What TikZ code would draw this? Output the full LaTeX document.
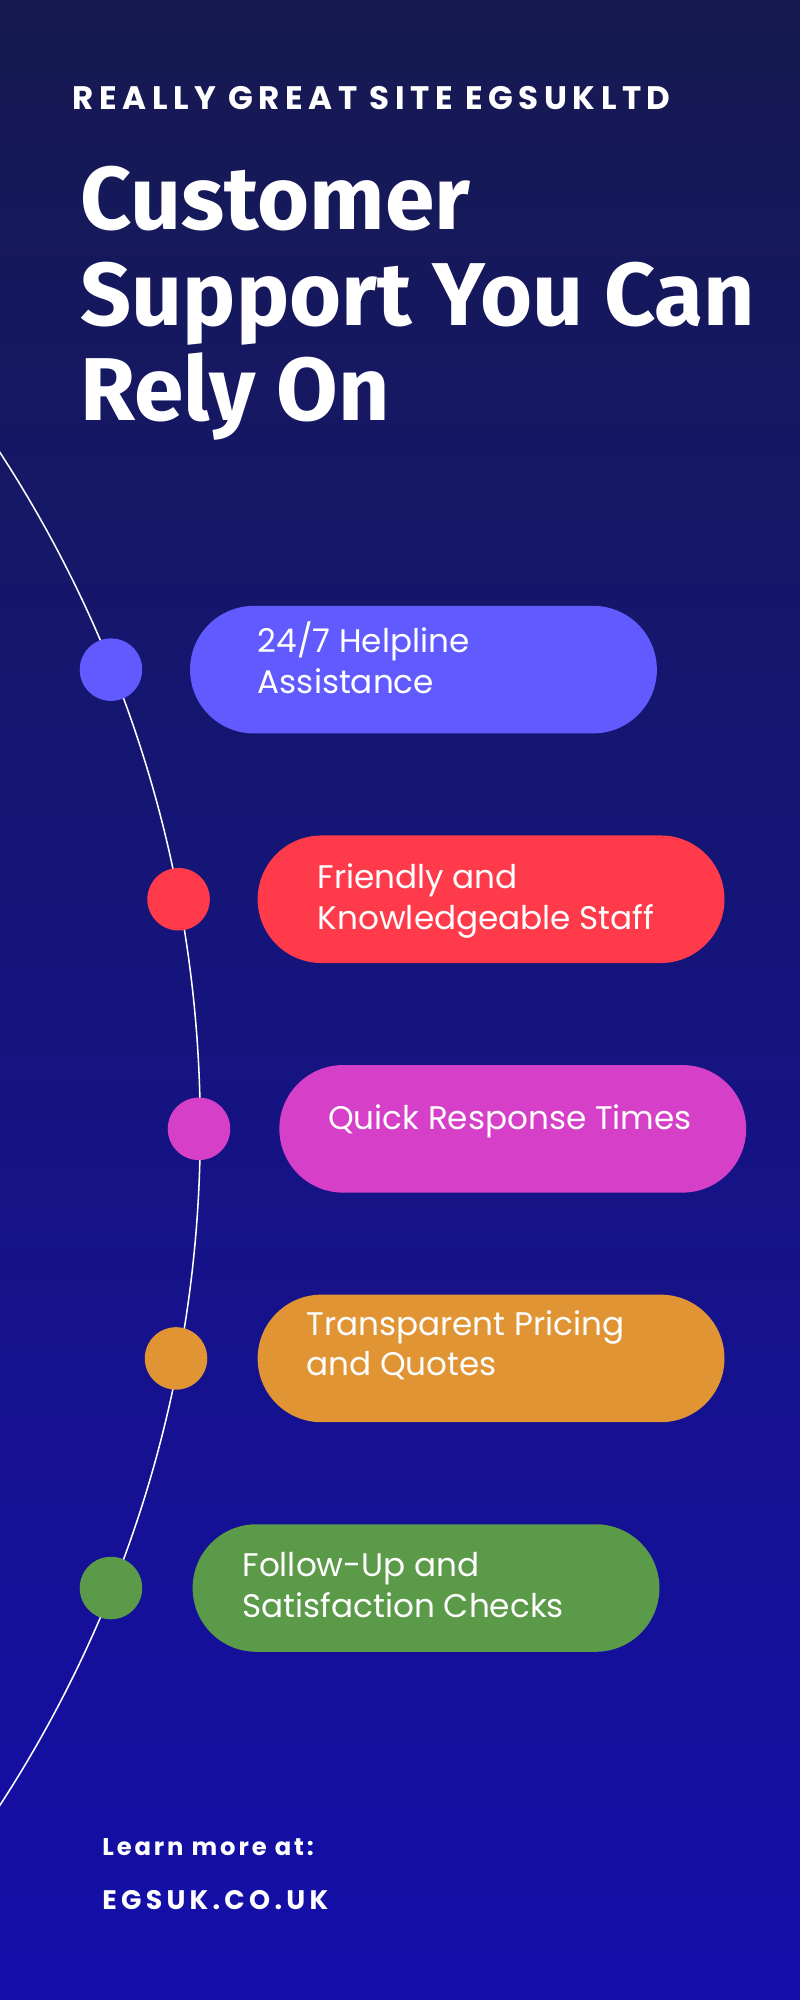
\documentclass[tikz,border=0pt]{standalone}
\usepackage{fontspec}
\setmainfont{Poppins}
\newfontfamily\titlefont{Fira Sans}
\begin{document}
\begin{tikzpicture}[x=1pt,y=-1pt,
  pill/.style={rounded corners=50pt},
  dot/.style={circle,minimum size=49pt,inner sep=0pt},
  ttl/.style={anchor=base west,text=white,inner sep=0pt,font=\titlefont\fontsize{70}{75}\selectfont\bfseries},
  ptxt/.style={anchor=north west,text=white,align=left,inner sep=0pt,font=\fontsize{25.6}{32}\selectfont}]
\useasboundingbox (0,0) rectangle (627,1568);
\shade[top color={rgb,255:red,22;green,26;blue,80},bottom color={rgb,255:red,20;green,14;blue,170}] (0,0) rectangle (627,1568);
\begin{scope}
\clip (0,0) rectangle (627,1568);
\draw[white,line width=1.2pt] (-816,885) circle (973);
\end{scope}
\node[anchor=base west,text=white,inner sep=0pt,font=\fontsize{25.5}{25}\selectfont\bfseries\addfontfeature{LetterSpace=17}] (hd) at (57,86) {REALLY GREAT SITE EGSUKLTD};
\node[ttl] (tt) at (63,180) {Customer};
\node[ttl] (tt2) at (63,255) {Support You Can};
\node[ttl] (tt3) at (63,330) {Rely On};
\fill[fill={rgb,255:red,96;green,90;blue,255},pill] (149,475) rectangle (515,575);
\fill[fill={rgb,255:red,255;green,58;blue,74},pill] (202,655) rectangle (568,755);
\fill[fill={rgb,255:red,214;green,64;blue,200},pill] (219,835) rectangle (585,935);
\fill[fill={rgb,255:red,224;green,148;blue,52},pill] (202,1015) rectangle (568,1115);
\fill[fill={rgb,255:red,90;green,154;blue,72},pill] (151,1195) rectangle (517,1295);
\node[dot,fill={rgb,255:red,96;green,90;blue,255}] (d1) at (87,525) {};
\node[dot,fill={rgb,255:red,255;green,58;blue,74}] (d2) at (140,705) {};
\node[dot,fill={rgb,255:red,214;green,64;blue,200}] (d3) at (156,885) {};
\node[dot,fill={rgb,255:red,224;green,148;blue,52}] (d4) at (138,1065) {};
\node[dot,fill={rgb,255:red,90;green,154;blue,72}] (d5) at (87,1245) {};
\node[ptxt] (t1) at (202,487) {24/7 Helpline\\Assistance};
\node[ptxt] (t2) at (249,677) {Friendly and\\Knowledgeable Staff};
\node[ptxt] (t3) at (257,866) {Quick Response Times};
\node[ptxt] (t4) at (240,1027) {Transparent Pricing\\and Quotes};
\node[ptxt] (t5) at (190,1217) {Follow-Up and\\Satisfaction Checks};
\node[anchor=base west,text=white,inner sep=0pt,font=\fontsize{19}{19}\selectfont\bfseries\addfontfeature{LetterSpace=12}] (l1) at (80,1455) {Learn more at:};
\node[anchor=base west,text=white,inner sep=0pt,font=\fontsize{21}{21}\selectfont\bfseries\addfontfeature{LetterSpace=16}] (l2) at (80,1497) {EGSUK.CO.UK};
\end{tikzpicture}
\end{document}
